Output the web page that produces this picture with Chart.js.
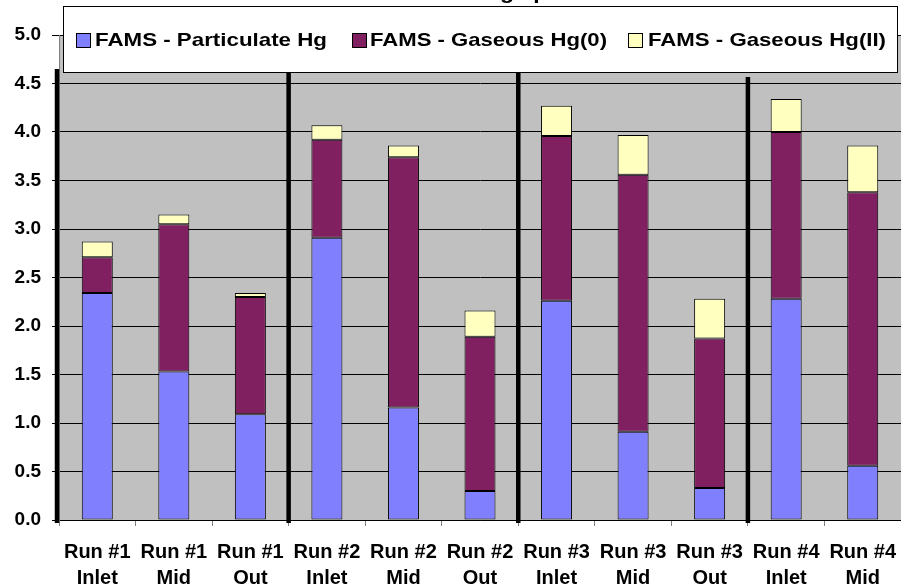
<!DOCTYPE html>
<html>
<head>
<meta charset="utf-8">
<script src="https://cdn.jsdelivr.net/npm/chart.js@4/dist/chart.umd.min.js"></script>
<style>
  html, body { margin: 0; padding: 0; background: #ffffff; }
  #wrap { width: 901px; height: 587px; position: relative; }
</style>
</head>
<body>
<div id="wrap"><canvas id="c" width="901" height="587"></canvas></div>
<script>
const categories = [
  ["Run #1", "Inlet"], ["Run #1", "Mid"], ["Run #1", "Out"],
  ["Run #2", "Inlet"], ["Run #2", "Mid"], ["Run #2", "Out"],
  ["Run #3", "Inlet"], ["Run #3", "Mid"], ["Run #3", "Out"],
  ["Run #4", "Inlet"], ["Run #4", "Mid"]
];
const particulateHg = [2.34, 1.53, 1.09, 2.91, 1.16, 0.30, 2.26, 0.91, 0.33, 2.28, 0.56];
const gaseousHg0    = [0.37, 1.52, 1.21, 1.01, 2.58, 1.59, 1.70, 2.65, 1.54, 1.72, 2.82];
const gaseousHgII   = [0.16, 0.10, 0.04, 0.15, 0.12, 0.27, 0.31, 0.41, 0.41, 0.34, 0.48];
const seriesNames = ["FAMS - Particulate Hg", "FAMS - Gaseous Hg(0)", "FAMS - Gaseous Hg(II)"];
const seriesColors = ["#8080FF", "#802060", "#FFFFC0"];
const titleText = "Hg speciation";
const runSeparatorsAfter = [2, 5, 8];
const yTickMin = 0, yTickMax = 5, yTickStep = 0.5;

const FONT = "'Liberation Sans', Arial, sans-serif";

function drawStretched(ctx, text, x, y, size, sx) {
  ctx.save();
  ctx.translate(x, y);
  ctx.scale(sx, 1);
  ctx.font = "bold " + size + "px " + FONT;
  ctx.fillText(text, 0, 0);
  ctx.restore();
}

const bgPlugin = {
  id: "plotBg",
  beforeDraw(chart) {
    const { ctx, chartArea: a } = chart;
    ctx.save();
    ctx.fillStyle = "#C0C0C0";
    ctx.fillRect(a.left, a.top, a.right - a.left, a.bottom - a.top);
    ctx.restore();
  }
};

const overlayPlugin = {
  id: "overlay",
  afterDraw(chart) {
    const { ctx, chartArea: a } = chart;
    const xs = chart.scales.x;
    // thick run separators
    ctx.save();
    ctx.strokeStyle = "#000";
    ctx.lineWidth = 4.5;
    ctx.lineCap = "butt";
    const sepX = [a.left - 2];
    runSeparatorsAfter.forEach(i => {
      sepX.push((xs.getPixelForValue(i) + xs.getPixelForValue(i + 1)) / 2);
    });
    sepX.forEach((x, k) => {
      ctx.beginPath();
      ctx.moveTo(x, k === 3 ? 77 : 69);
      ctx.lineTo(x, a.bottom + 3);
      ctx.stroke();
    });
    ctx.restore();

    // title (mostly hidden behind legend)
    ctx.save();
    ctx.fillStyle = "#000";
    ctx.textBaseline = "alphabetic";
    ctx.font = "bold 20px " + FONT;
    const hW = ctx.measureText("H").width * 1.15;
    drawStretched(ctx, titleText, 500 - hW, -1, 20, 1.15);
    ctx.restore();

    // legend box
    ctx.save();
    const lx = 63.5, ly = 6.5, lw = 834, lh = 66;
    ctx.fillStyle = "#ffffff";
    ctx.fillRect(lx, ly, lw, lh);
    ctx.strokeStyle = "#000";
    ctx.lineWidth = 1;
    ctx.strokeRect(lx, ly, lw, lh);
    const boxX = [76, 352, 628];
    const textX = [95, 370, 648];
    const targetW = [232, 237, 238];
    ctx.textBaseline = "middle";
    chart.data.datasets.forEach((ds, i) => {
      ctx.fillStyle = ds.backgroundColor;
      ctx.fillRect(boxX[i] + 0.5, 33.5, 14, 14);
      ctx.strokeStyle = "#000";
      ctx.strokeRect(boxX[i] + 0.5, 33.5, 14, 14);
      ctx.fillStyle = "#000";
      ctx.font = "bold 19px " + FONT;
      const w = ctx.measureText(ds.label).width;
      drawStretched(ctx, ds.label, textX[i], 41, 19, targetW[i] / w);
    });
    ctx.restore();
  }
};

const datasets = [particulateHg, gaseousHg0, gaseousHgII].map((vals, i) => ({
  label: seriesNames[i],
  data: vals,
  backgroundColor: seriesColors[i],
  borderColor: "#000000",
  borderWidth: 1,
  borderSkipped: false,
  barPercentage: 0.405,
  categoryPercentage: 1.0
}));

new Chart(document.getElementById("c"), {
  type: "bar",
  data: { labels: categories, datasets },
  options: {
    responsive: false,
    animation: false,
    devicePixelRatio: 1,
    layout: { padding: { top: 35, right: 0, left: 0, bottom: 0 } },
    plugins: { legend: { display: false }, title: { display: false }, tooltip: { enabled: false } },
    scales: {
      x: {
        stacked: true,
        offset: true,
        grid: { offset: true, drawOnChartArea: false, drawTicks: true, tickLength: 6, color: "#808080" },
        border: { display: true, color: "#000000", width: 1 },
        ticks: {
          color: "#000",
          font: { family: FONT, size: 20, weight: "bold", lineHeight: 1.32 },
          padding: 13,
          maxRotation: 0,
          minRotation: 0,
          autoSkip: false
        },
        afterFit(scale) { scale.height = 67; scale.paddingLeft = 0; scale.paddingRight = 0; }
      },
      y: {
        stacked: true,
        min: yTickMin,
        max: yTickMax,
        grid: { color: "#000000", lineWidth: 1, tickLength: 7, drawTicks: true },
        border: { display: true, color: "#808080", width: 1 },
        ticks: {
          stepSize: yTickStep,
          color: "#000",
          padding: 11,
          font: { family: FONT, size: 19, weight: "bold" },
          callback: v => Number(v).toFixed(1)
        },
        afterFit(scale) { scale.width = 59; }
      }
    }
  },
  plugins: [bgPlugin, overlayPlugin]
});
</script>
</body>
</html>
